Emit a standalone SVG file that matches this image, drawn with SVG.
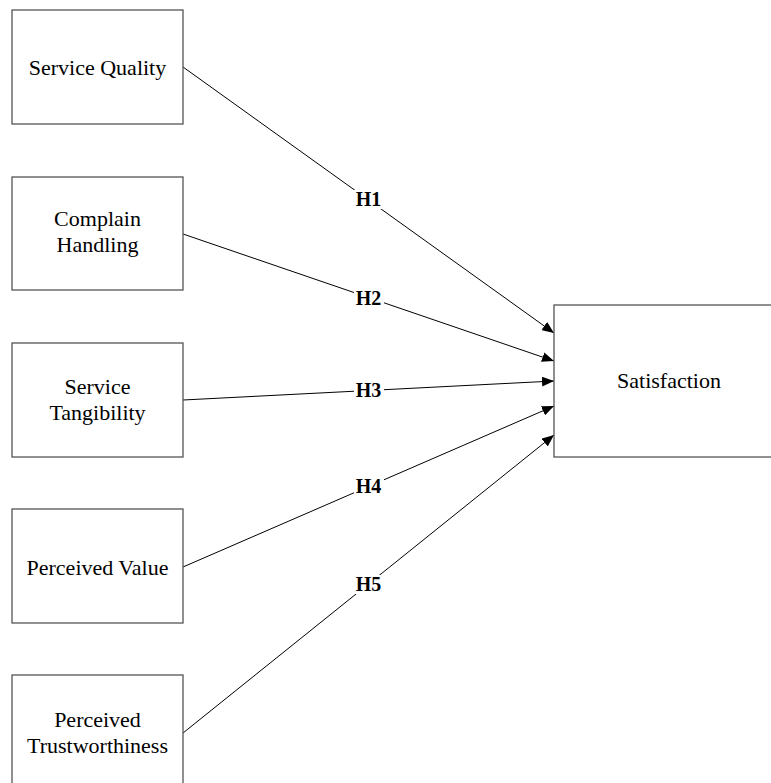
<svg xmlns="http://www.w3.org/2000/svg" width="771" height="783" viewBox="0 0 771 783">
<style>
.box{fill:#fff;stroke:#555;stroke-width:1.3}
.t{font-family:"Liberation Serif","Times New Roman",serif;font-size:22px;fill:#000;text-anchor:middle}
.h{font-family:"Liberation Serif","Times New Roman",serif;font-size:20px;font-weight:bold;fill:#000;text-anchor:middle}
.ln{stroke:#000;stroke-width:1;fill:none;marker-end:url(#arr)}
.mask{fill:#fff}
</style>
<defs>
<marker id="arr" markerWidth="12" markerHeight="10" refX="12" refY="5" orient="auto" markerUnits="userSpaceOnUse">
<path d="M0,0 L12,5 L0,10 Z" fill="#000"/>
</marker>
</defs>
<rect width="771" height="783" fill="#fff"/>
<g id="connectors">
<line class="ln" x1="183" y1="67" x2="554" y2="333"/>
<line class="ln" x1="183" y1="234" x2="554" y2="361"/>
<line class="ln" x1="183" y1="400" x2="554" y2="381"/>
<line class="ln" x1="183" y1="567" x2="554" y2="406"/>
<line class="ln" x1="183" y1="733" x2="554" y2="435"/>
<rect class="mask" x="354" y="190" width="30" height="19"/>
<text class="h" x="368.5" y="206">H1</text>
<rect class="mask" x="354" y="289" width="30" height="19"/>
<text class="h" x="368.5" y="305">H2</text>
<rect class="mask" x="354" y="381" width="30" height="19"/>
<text class="h" x="368.5" y="397">H3</text>
<rect class="mask" x="354" y="477" width="30" height="19"/>
<text class="h" x="368.5" y="493">H4</text>
<rect class="mask" x="354" y="575" width="30" height="19"/>
<text class="h" x="368.5" y="591">H5</text>
</g>
<g id="service-quality">
<rect class="box" x="12" y="10" width="171" height="114"/>
<text class="t" x="97.5" y="75">Service Quality</text>
</g>
<g id="complain-handling">
<rect class="box" x="12" y="177" width="171" height="113"/>
<text class="t" x="97.5" y="226">Complain</text>
<text class="t" x="97.5" y="252">Handling</text>
</g>
<g id="service-tangibility">
<rect class="box" x="12" y="343" width="171" height="114"/>
<text class="t" x="97.5" y="394">Service</text>
<text class="t" x="97.5" y="420">Tangibility</text>
</g>
<g id="perceived-value">
<rect class="box" x="12" y="509" width="171" height="114"/>
<text class="t" x="97.5" y="575">Perceived Value</text>
</g>
<g id="perceived-trustworthiness">
<rect class="box" x="12" y="675" width="171" height="114"/>
<text class="t" x="97.5" y="727">Perceived</text>
<text class="t" x="97.5" y="753">Trustworthiness</text>
</g>
<g id="satisfaction">
<rect class="box" x="554" y="305" width="230" height="152"/>
<text class="t" x="669" y="388">Satisfaction</text>
</g>
</svg>
